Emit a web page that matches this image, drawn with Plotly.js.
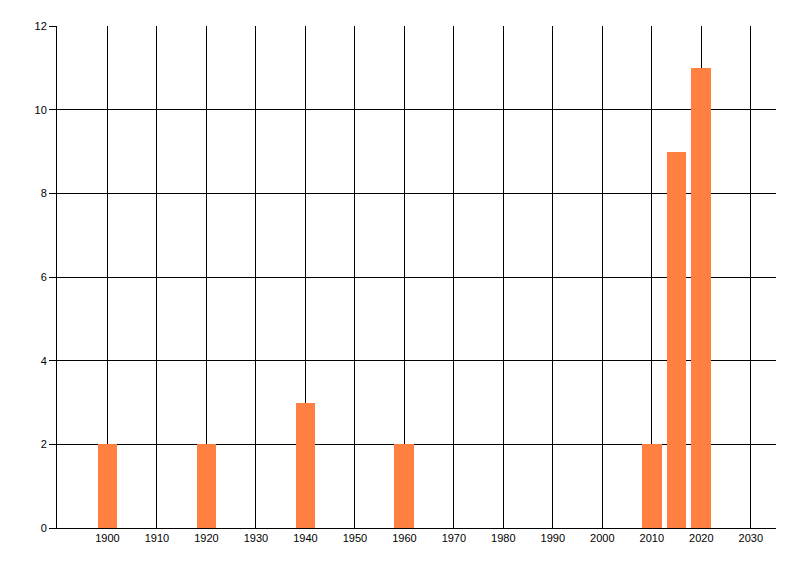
<!DOCTYPE html>
<html><head><meta charset="utf-8">
<script src="https://cdn.plot.ly/plotly-3.0.1.min.js"></script>
<style>html,body{margin:0;padding:0;background:#fff}#chart{width:800px;height:576px}</style>
</head><body><div id="chart"></div>
<script>
const years = [1900, 1920, 1940, 1960, 2010, 2015, 2020];
const counts = [2, 2, 3, 2, 2, 9, 11];
const xTicks = [1900,1910,1920,1930,1940,1950,1960,1970,1980,1990,2000,2010,2020,2030];
const yTicks = [0,2,4,6,8,10,12];

Plotly.newPlot('chart', [{
  type: 'bar', x: years, y: counts, width: 4,
  marker: {color: '#ff8040', line: {width: 0}},
  hoverinfo: 'x+y'
}], {
  width: 800, height: 576,
  margin: {l: 57, r: 24, t: 26, b: 48, pad: 0},
  paper_bgcolor: '#fff', plot_bgcolor: '#fff',
  font: {family: 'Liberation Sans, Arial, sans-serif', size: 11, color: '#000'},
  showlegend: false, bargap: 0,
  xaxis: {range: [1889.8, 2035.1], tickvals: xTicks, ticktext: xTicks.map(String),
    showgrid: true, gridcolor: '#000', gridwidth: 1, zeroline: false,
    showline: true, linecolor: '#000', linewidth: 1, ticks: '', ticklen: 0},
  yaxis: {range: [0, 12], tickvals: yTicks, showgrid: true, gridcolor: '#000', gridwidth: 1,
    zeroline: false, showline: true, linecolor: '#000', linewidth: 1,
    ticks: 'outside', ticklen: 7, tickcolor: '#000', tickwidth: 1}
}, {displayModeBar: false, staticPlot: true});
</script></body></html>
